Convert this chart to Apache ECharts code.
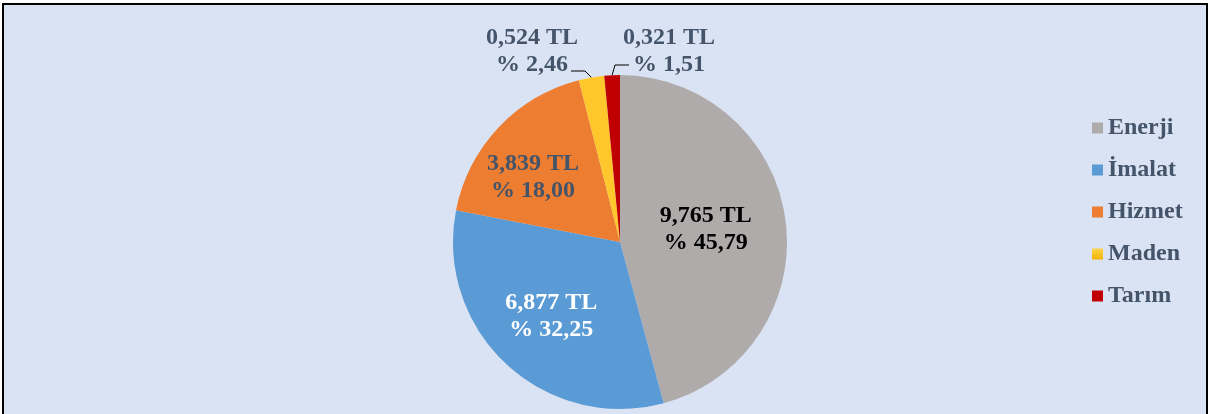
<!DOCTYPE html>
<html>
<head>
<meta charset="utf-8">
<script src="https://cdn.jsdelivr.net/npm/echarts@6/dist/echarts.min.js"></script>
<style>
html,body{margin:0;padding:0;background:#fff;}
#chart{position:absolute;left:2px;top:3px;width:1206px;height:420px;box-sizing:border-box;border:2px solid #000;border-bottom:none;background:#dae3f3;}
</style>
</head>
<body>
<div id="chart"></div>
<script>
// sektör payları (milyar TL)
var sektorler=["Enerji","İmalat","Hizmet","Maden","Tarım"];
var tutarlar=[9.765,6.877,3.839,0.524,0.321];
var yuzdeler=["45,79","32,25","18,00","2,46","1,51"];
var renkler=["#afabab","#5b9bd5","#ed7d31","#ffc72c","#c00000"];
var etiketRenk=["#000000","#ffffff","#44546a","#44546a","#44546a"];

var chart=echarts.init(document.getElementById("chart"));
var data=[];
for(var i=0;i<sektorler.length;i++){
    var disari=(i>=3);
    data.push({
        name:sektorler[i],
        value:tutarlar[i],
        itemStyle:{color:renkler[i]},
        label:{
            position:disari?"outside":"inside",
            color:etiketRenk[i],
            formatter:(function(k){return function(){return tutarlar[k].toFixed(3).replace(".",",")+" TL\n% "+yuzdeler[k];};})(i)
        },
        labelLine:{show:disari,length:8,length2:12,lineStyle:{color:"#000",width:1}}
    });
}

// etiket yerleşimi (küçük dilimlerin etiketleri üstte)
function etiketYerlesim(p){
    var i=p.dataIndex;
    var ilk=(p.labelLinePoints&&p.labelLinePoints[0])?p.labelLinePoints[0]:null;
    if(i==0) return {dx:0,dy:-1};
    if(i==1) return {dx:-10,dy:11};
    if(i==2) return {dx:-24,dy:-5};
    if(i==3){
        var o={x:528,y:46,align:"center",verticalAlign:"middle"};
        if(ilk) o.labelLinePoints=[[ilk[0],ilk[1]],[o.x+53,o.y+20],[o.x+39,o.y+20]];
        return o;
    }
    if(i==4){
        var t={x:665,y:46,align:"center",verticalAlign:"middle"};
        if(ilk) t.labelLinePoints=[[ilk[0],ilk[1]],[t.x-54,t.y+14],[t.x-40,t.y+14]];
        return t;
    }
    return {};
}

var legendVeri=sektorler.map(function(s,k){
    if(k==3) return {name:s,itemStyle:{color:new echarts.graphic.LinearGradient(0,0,0,1,[{offset:0,color:"#ffd34d"},{offset:1,color:"#f0b400"}])}};
    return {name:s};
});

chart.setOption({
    animation:false,
    legend:{
        orient:"vertical",
        left:1083,
        top:106,
        itemWidth:11,
        itemHeight:11,
        itemGap:18,
        icon:"rect",
        textStyle:{fontFamily:"Liberation Serif",fontWeight:"bold",fontSize:24,color:"#44546a"},
        data:legendVeri
    },
    series:[{
        type:"pie",
        center:[616,237],
        radius:[0,167],
        startAngle:90,
        clockwise:true,
        data:data,
        labelLayout:etiketYerlesim,
        label:{
            show:true,
            fontFamily:"Liberation Serif",
            fontWeight:"bold",
            fontSize:24,
            lineHeight:27,
            align:"center"
        }
    }]
});
</script>
</body>
</html>
